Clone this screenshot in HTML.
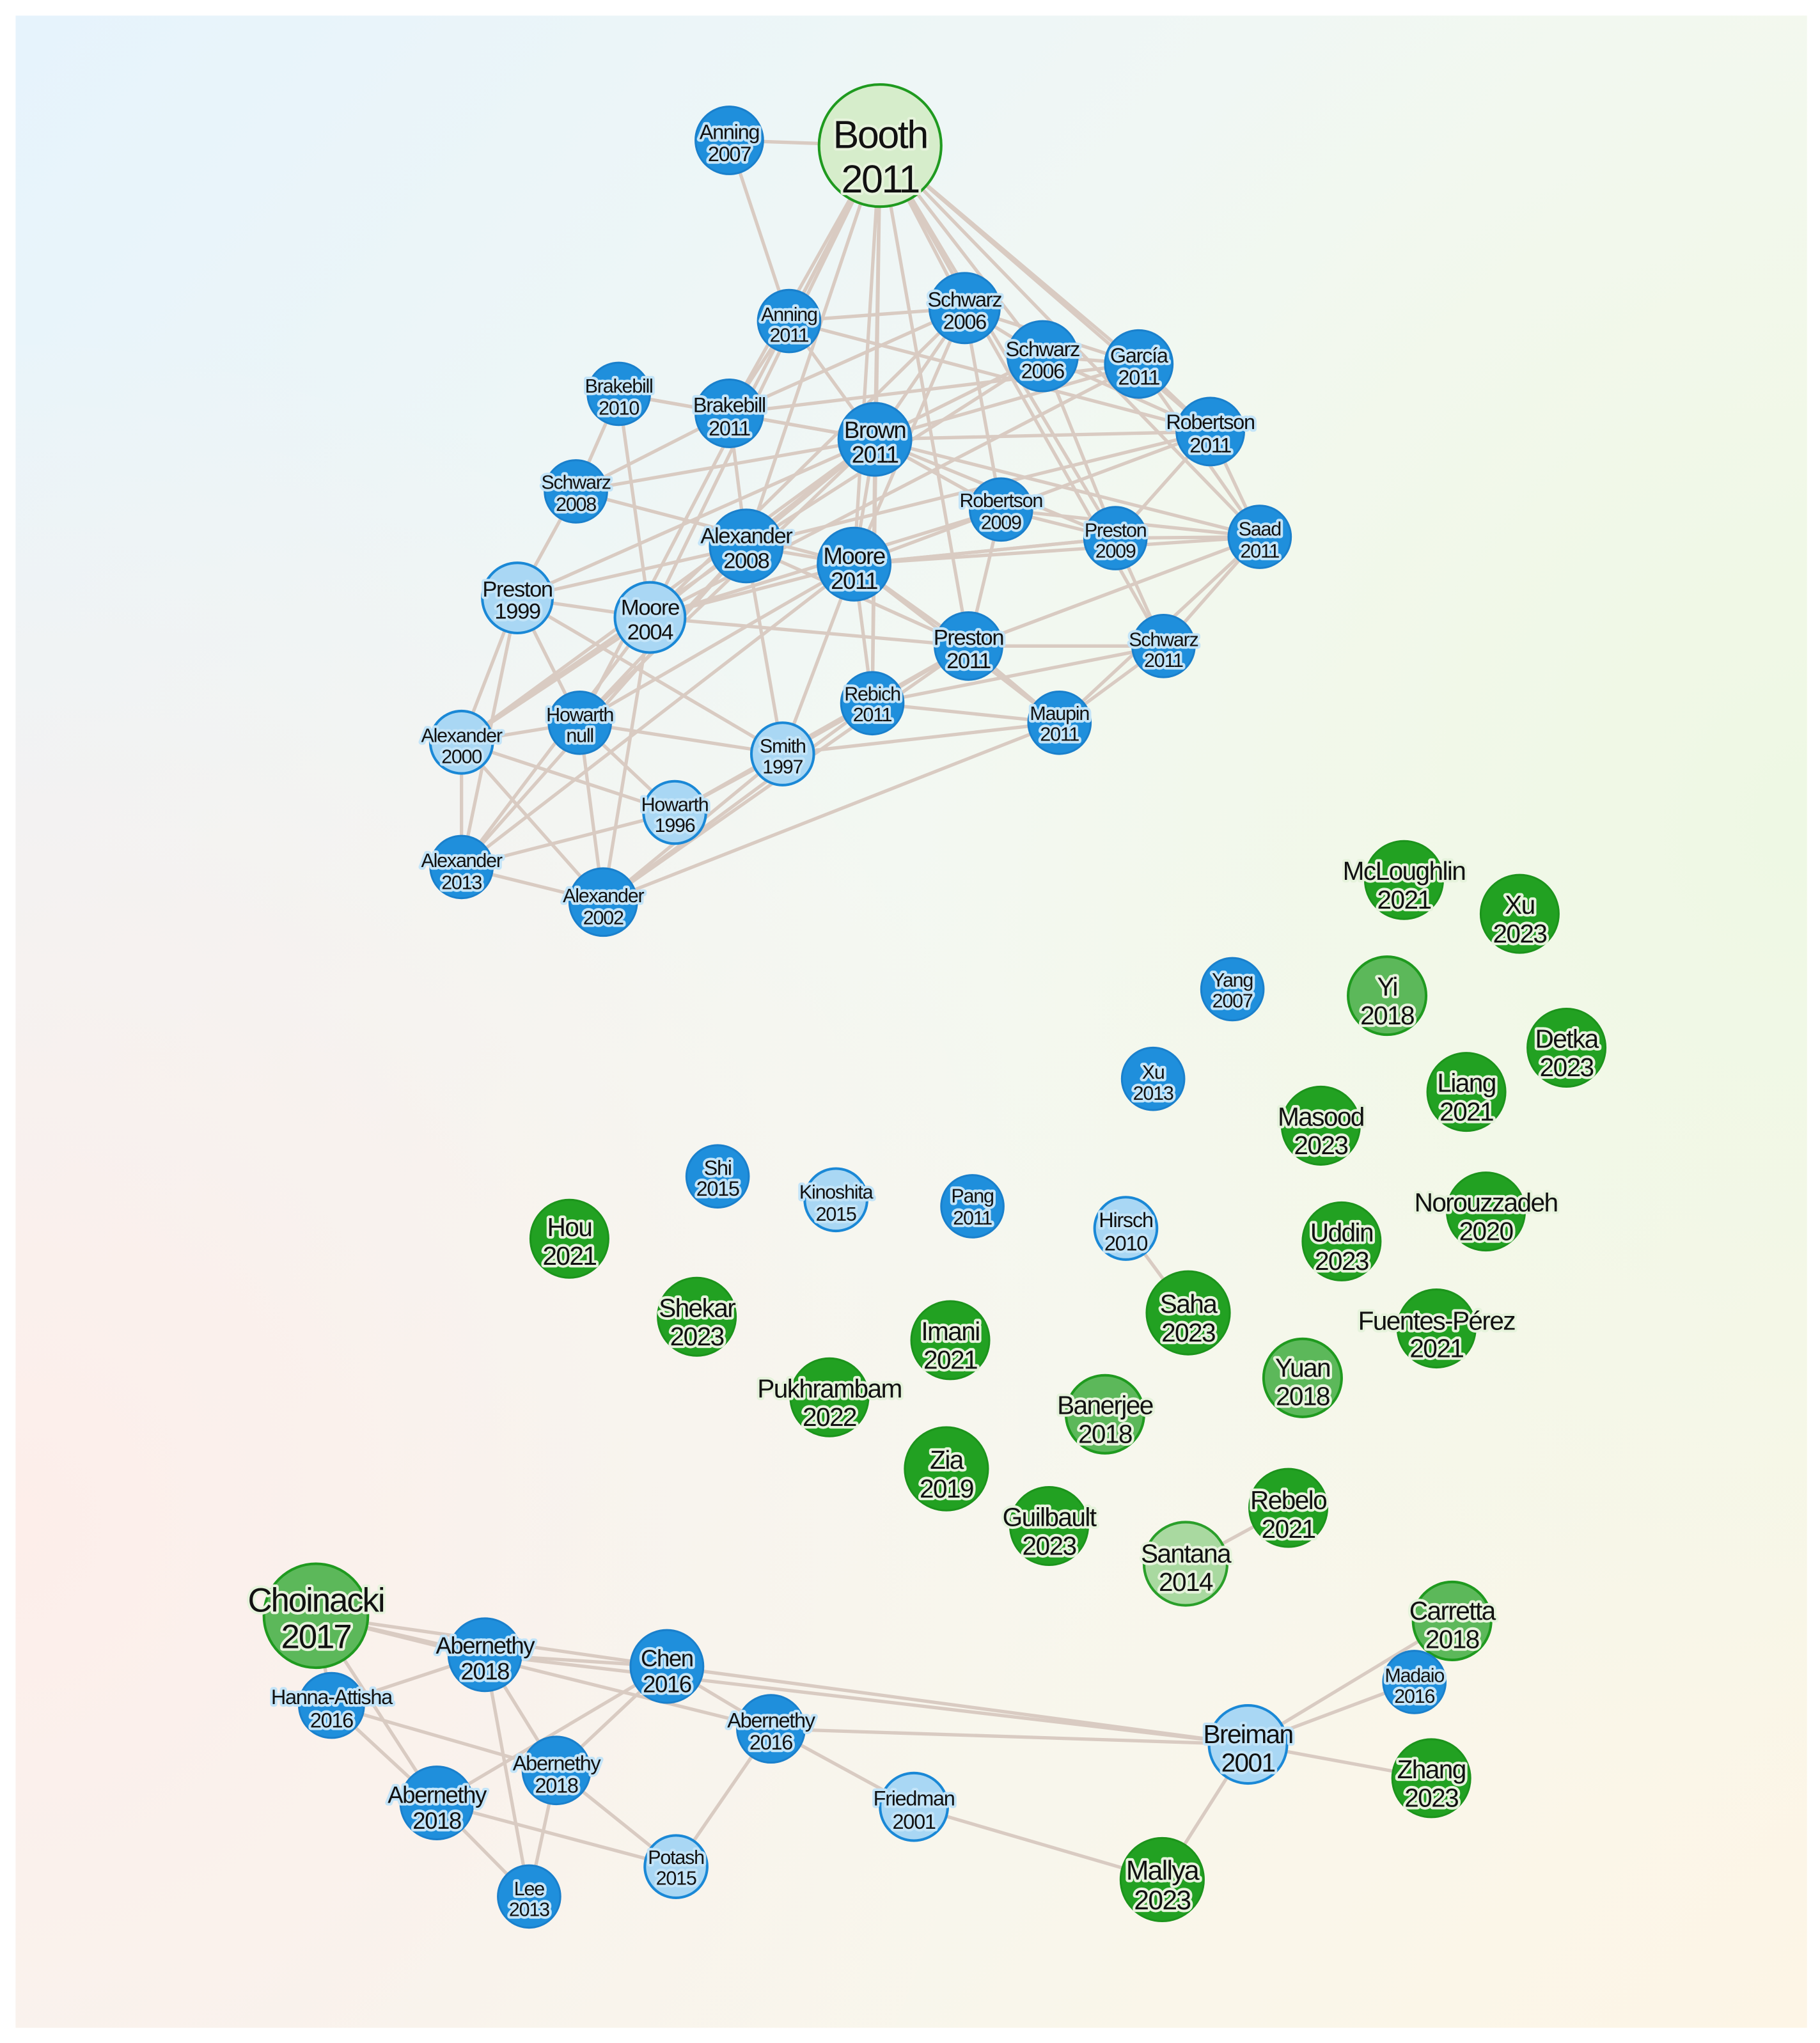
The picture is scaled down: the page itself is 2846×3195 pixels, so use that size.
<!DOCTYPE html>
<html><head><meta charset="utf-8">
<style>
html,body{margin:0;padding:0;width:2846px;height:3195px;overflow:hidden;background:#fff}
svg{display:block}
text{font-family:"Liberation Sans",sans-serif;text-anchor:middle;fill:#111;paint-order:stroke;stroke-linejoin:round;letter-spacing:-0.04em}
.hb{stroke:#c3e4f8;stroke-width:4}
.hg{stroke:#e6f3dc;stroke-width:4}
.e line{stroke:#d9cbc2;stroke-width:2.6}
.b{fill:#1f8fdc;stroke:#1a80cc;stroke-width:1.5}
.lb{fill:#a9d7f4;stroke:#1a88d6;stroke-width:2}
.g{fill:#22a122;stroke:#1c941c;stroke-width:1.5}
.mg{fill:#5cb85a;stroke:#1f9a1f;stroke-width:2}
.lg{fill:#a9d9a0;stroke:#2a9f2a;stroke-width:2}
.vg{fill:#d6edcb;stroke:#1f9a1f;stroke-width:2}
</style></head><body>
<svg width="2846" height="3195" viewBox="0 0 1400 1571.7" xmlns="http://www.w3.org/2000/svg">
<defs>
<linearGradient id="g1" x1="0" y1="0" x2="1" y2="1">
<stop offset="0" stop-color="#e6f3fc"/>
<stop offset="0.45" stop-color="#f3f8f2"/>
<stop offset="1" stop-color="#fdf5e6"/>
</linearGradient>
<radialGradient id="g2" cx="0" cy="0.75" r="0.6">
<stop offset="0" stop-color="#fdeeea" stop-opacity="1"/>
<stop offset="1" stop-color="#fdeeea" stop-opacity="0"/>
</radialGradient>
<radialGradient id="g3" cx="1" cy="0.4" r="0.5">
<stop offset="0" stop-color="#eef8e4" stop-opacity="1"/>
<stop offset="1" stop-color="#eef8e4" stop-opacity="0"/>
</radialGradient>
</defs>
<rect x="0" y="0" width="1400" height="1572" fill="#fff"/>
<rect x="12" y="12" width="1378" height="1548" fill="url(#g1)"/>
<rect x="12" y="12" width="1378" height="1548" fill="url(#g2)"/>
<rect x="12" y="12" width="1378" height="1548" fill="url(#g3)"/>

<g class="e">
<!-- top cluster edges -->
<line x1="677" y1="112" x2="561" y2="108"/><line x1="561" y1="108" x2="607" y2="247"/>
<line x1="677" y1="112" x2="607" y2="247"/><line x1="677" y1="112" x2="742" y2="237"/>
<line x1="677" y1="112" x2="802" y2="274"/><line x1="677" y1="112" x2="876" y2="280"/>
<line x1="677" y1="112" x2="931" y2="332"/><line x1="677" y1="112" x2="561" y2="318"/>
<line x1="677" y1="112" x2="673" y2="338"/><line x1="677" y1="112" x2="574" y2="420"/>
<line x1="677" y1="112" x2="657" y2="434"/><line x1="677" y1="112" x2="500" y2="475"/>
<line x1="677" y1="112" x2="745" y2="497"/><line x1="677" y1="112" x2="858" y2="414"/>
<line x1="677" y1="112" x2="969" y2="413"/><line x1="677" y1="112" x2="671" y2="541"/>
<line x1="677" y1="112" x2="895" y2="497"/><line x1="677" y1="112" x2="446" y2="556"/>
<line x1="476" y1="303" x2="561" y2="318"/><line x1="476" y1="303" x2="443" y2="378"/>
<line x1="476" y1="303" x2="673" y2="338"/><line x1="476" y1="303" x2="500" y2="475"/>
<line x1="443" y1="378" x2="398" y2="460"/><line x1="443" y1="378" x2="673" y2="338"/>
<line x1="443" y1="378" x2="657" y2="434"/><line x1="398" y1="460" x2="500" y2="475"/>
<line x1="398" y1="460" x2="355" y2="571"/><line x1="398" y1="460" x2="355" y2="667"/>
<line x1="398" y1="460" x2="446" y2="556"/><line x1="398" y1="460" x2="673" y2="338"/>
<line x1="398" y1="460" x2="574" y2="420"/><line x1="398" y1="460" x2="602" y2="580"/>
<line x1="500" y1="475" x2="673" y2="338"/><line x1="500" y1="475" x2="657" y2="434"/>
<line x1="500" y1="475" x2="745" y2="497"/><line x1="500" y1="475" x2="355" y2="571"/>
<line x1="500" y1="475" x2="355" y2="667"/><line x1="500" y1="475" x2="464" y2="694"/>
<line x1="500" y1="475" x2="742" y2="237"/><line x1="500" y1="475" x2="876" y2="280"/>
<line x1="355" y1="571" x2="446" y2="556"/><line x1="355" y1="571" x2="355" y2="667"/>
<line x1="355" y1="571" x2="464" y2="694"/><line x1="355" y1="571" x2="519" y2="625"/>
<line x1="355" y1="571" x2="574" y2="420"/><line x1="355" y1="571" x2="673" y2="338"/>
<line x1="446" y1="556" x2="519" y2="625"/><line x1="446" y1="556" x2="464" y2="694"/>
<line x1="446" y1="556" x2="602" y2="580"/><line x1="446" y1="556" x2="657" y2="434"/>
<line x1="446" y1="556" x2="673" y2="338"/><line x1="446" y1="556" x2="574" y2="420"/>
<line x1="519" y1="625" x2="355" y2="667"/><line x1="519" y1="625" x2="671" y2="541"/>
<line x1="519" y1="625" x2="602" y2="580"/><line x1="519" y1="625" x2="745" y2="497"/>
<line x1="355" y1="667" x2="464" y2="694"/><line x1="355" y1="667" x2="657" y2="434"/>
<line x1="355" y1="667" x2="574" y2="420"/><line x1="464" y1="694" x2="602" y2="580"/>
<line x1="464" y1="694" x2="815" y2="556"/><line x1="464" y1="694" x2="745" y2="497"/>
<line x1="464" y1="694" x2="671" y2="541"/><line x1="602" y1="580" x2="671" y2="541"/>
<line x1="602" y1="580" x2="657" y2="434"/><line x1="602" y1="580" x2="815" y2="556"/>
<line x1="602" y1="580" x2="574" y2="420"/><line x1="671" y1="541" x2="815" y2="556"/>
<line x1="671" y1="541" x2="745" y2="497"/><line x1="671" y1="541" x2="657" y2="434"/>
<line x1="671" y1="541" x2="673" y2="338"/><line x1="671" y1="541" x2="895" y2="497"/>
<line x1="745" y1="497" x2="895" y2="497"/><line x1="745" y1="497" x2="815" y2="556"/>
<line x1="745" y1="497" x2="657" y2="434"/><line x1="745" y1="497" x2="969" y2="413"/>
<line x1="745" y1="497" x2="770" y2="392"/><line x1="745" y1="497" x2="574" y2="420"/>
<line x1="657" y1="434" x2="574" y2="420"/><line x1="657" y1="434" x2="673" y2="338"/>
<line x1="657" y1="434" x2="742" y2="237"/><line x1="657" y1="434" x2="931" y2="332"/>
<line x1="657" y1="434" x2="969" y2="413"/><line x1="657" y1="434" x2="858" y2="414"/>
<line x1="574" y1="420" x2="673" y2="338"/><line x1="574" y1="420" x2="561" y2="318"/>
<line x1="574" y1="420" x2="802" y2="274"/><line x1="574" y1="420" x2="931" y2="332"/>
<line x1="673" y1="338" x2="607" y2="247"/><line x1="673" y1="338" x2="742" y2="237"/>
<line x1="673" y1="338" x2="802" y2="274"/><line x1="673" y1="338" x2="876" y2="280"/>
<line x1="673" y1="338" x2="931" y2="332"/><line x1="673" y1="338" x2="770" y2="392"/>
<line x1="673" y1="338" x2="858" y2="414"/><line x1="673" y1="338" x2="969" y2="413"/>
<line x1="673" y1="338" x2="561" y2="318"/><line x1="561" y1="318" x2="607" y2="247"/>
<line x1="561" y1="318" x2="742" y2="237"/><line x1="561" y1="318" x2="876" y2="280"/>
<line x1="561" y1="318" x2="443" y2="378"/><line x1="607" y1="247" x2="742" y2="237"/>
<line x1="607" y1="247" x2="931" y2="332"/><line x1="742" y1="237" x2="802" y2="274"/>
<line x1="742" y1="237" x2="876" y2="280"/><line x1="742" y1="237" x2="770" y2="392"/>
<line x1="802" y1="274" x2="876" y2="280"/><line x1="802" y1="274" x2="931" y2="332"/>
<line x1="802" y1="274" x2="858" y2="414"/><line x1="876" y1="280" x2="931" y2="332"/>
<line x1="876" y1="280" x2="969" y2="413"/><line x1="931" y1="332" x2="969" y2="413"/>
<line x1="931" y1="332" x2="858" y2="414"/><line x1="770" y1="392" x2="858" y2="414"/>
<line x1="770" y1="392" x2="969" y2="413"/><line x1="858" y1="414" x2="969" y2="413"/>
<line x1="858" y1="414" x2="895" y2="497"/><line x1="969" y1="413" x2="895" y2="497"/>
<line x1="969" y1="413" x2="815" y2="556"/><line x1="895" y1="497" x2="815" y2="556"/>
<line x1="815" y1="556" x2="657" y2="434"/><line x1="770" y1="392" x2="500" y2="475"/>
<line x1="858" y1="414" x2="657" y2="434"/>
<!-- middle -->
<line x1="866" y1="945" x2="914" y2="1010"/>
<line x1="912" y1="1203" x2="991" y2="1160"/>
<!-- bottom -->
<line x1="243" y1="1243" x2="373" y2="1273"/><line x1="243" y1="1243" x2="513" y2="1282"/>
<line x1="243" y1="1243" x2="255" y2="1312"/><line x1="243" y1="1243" x2="593" y2="1330"/>
<line x1="243" y1="1243" x2="336" y2="1387"/>
<line x1="373" y1="1273" x2="513" y2="1282"/><line x1="373" y1="1273" x2="960" y2="1342"/>
<line x1="373" y1="1273" x2="428" y2="1362"/><line x1="373" y1="1273" x2="407" y2="1459"/>
<line x1="373" y1="1273" x2="255" y2="1312"/>
<line x1="255" y1="1312" x2="428" y2="1362"/><line x1="255" y1="1312" x2="336" y2="1387"/>
<line x1="513" y1="1282" x2="428" y2="1362"/><line x1="513" y1="1282" x2="336" y2="1387"/>
<line x1="513" y1="1282" x2="960" y2="1342"/><line x1="513" y1="1282" x2="593" y2="1330"/>
<line x1="593" y1="1330" x2="960" y2="1342"/><line x1="593" y1="1330" x2="520" y2="1436"/>
<line x1="593" y1="1330" x2="703" y2="1390"/>
<line x1="428" y1="1362" x2="520" y2="1436"/><line x1="428" y1="1362" x2="407" y2="1459"/>
<line x1="336" y1="1387" x2="407" y2="1459"/><line x1="336" y1="1387" x2="520" y2="1436"/>
<line x1="703" y1="1390" x2="894" y2="1446"/><line x1="960" y1="1342" x2="894" y2="1446"/>
<line x1="960" y1="1342" x2="1117" y2="1247"/><line x1="960" y1="1342" x2="1088" y2="1294"/>
<line x1="960" y1="1342" x2="1101" y2="1368"/>
</g>

<!-- nodes: top cluster -->
<g>
<circle class="vg" cx="677" cy="112" r="47"/><text class="hg" x="677" y="114" font-size="30">Booth</text><text class="hg" x="677" y="148" font-size="30">2011</text>
<circle class="b" cx="561" cy="108" r="26"/><text class="hb" x="561" y="107" font-size="16">Anning</text><text class="hb" x="561" y="124" font-size="16">2007</text>
<circle class="b" cx="607" cy="247" r="24"/><text class="hb" x="607" y="247" font-size="15">Anning</text><text class="hb" x="607" y="263" font-size="15">2011</text>
<circle class="b" cx="742" cy="237" r="27"/><text class="hb" x="742" y="236" font-size="16">Schwarz</text><text class="hb" x="742" y="253" font-size="16">2006</text>
<circle class="b" cx="802" cy="274" r="27"/><text class="hb" x="802" y="274" font-size="16">Schwarz</text><text class="hb" x="802" y="291" font-size="16">2006</text>
<circle class="b" cx="876" cy="280" r="26"/><text class="hb" x="876" y="279" font-size="16">García</text><text class="hb" x="876" y="296" font-size="16">2011</text>
<circle class="b" cx="476" cy="303" r="24"/><text class="hb" x="476" y="302" font-size="15">Brakebill</text><text class="hb" x="476" y="319" font-size="15">2010</text>
<circle class="b" cx="561" cy="318" r="26"/><text class="hb" x="561" y="317" font-size="16">Brakebill</text><text class="hb" x="561" y="335" font-size="16">2011</text>
<circle class="b" cx="673" cy="338" r="28"/><text class="hb" x="673" y="337" font-size="18">Brown</text><text class="hb" x="673" y="356" font-size="18">2011</text>
<circle class="b" cx="931" cy="332" r="26"/><text class="hb" x="931" y="330" font-size="16">Robertson</text><text class="hb" x="931" y="348" font-size="16">2011</text>
<circle class="b" cx="443" cy="378" r="24"/><text class="hb" x="443" y="376" font-size="15">Schwarz</text><text class="hb" x="443" y="393" font-size="15">2008</text>
<circle class="b" cx="770" cy="392" r="24"/><text class="hb" x="770" y="390" font-size="15">Robertson</text><text class="hb" x="770" y="407" font-size="15">2009</text>
<circle class="b" cx="858" cy="414" r="24"/><text class="hb" x="858" y="413" font-size="15">Preston</text><text class="hb" x="858" y="429" font-size="15">2009</text>
<circle class="b" cx="969" cy="413" r="24"/><text class="hb" x="969" y="412" font-size="15">Saad</text><text class="hb" x="969" y="429" font-size="15">2011</text>
<circle class="b" cx="574" cy="420" r="28"/><text class="hb" x="574" y="418" font-size="17">Alexander</text><text class="hb" x="574" y="437" font-size="17">2008</text>
<circle class="b" cx="657" cy="434" r="28"/><text class="hb" x="657" y="434" font-size="18">Moore</text><text class="hb" x="657" y="453" font-size="18">2011</text>
<circle class="lb" cx="398" cy="460" r="27"/><text class="hb" x="398" y="459" font-size="17">Preston</text><text class="hb" x="398" y="476" font-size="17">1999</text>
<circle class="lb" cx="500" cy="475" r="27"/><text class="hb" x="500" y="473" font-size="17">Moore</text><text class="hb" x="500" y="492" font-size="17">2004</text>
<circle class="b" cx="745" cy="497" r="26"/><text class="hb" x="745" y="496" font-size="17">Preston</text><text class="hb" x="745" y="514" font-size="17">2011</text>
<circle class="b" cx="895" cy="497" r="24"/><text class="hb" x="895" y="497" font-size="15">Schwarz</text><text class="hb" x="895" y="513" font-size="15">2011</text>
<circle class="b" cx="671" cy="541" r="24"/><text class="hb" x="671" y="539" font-size="15">Rebich</text><text class="hb" x="671" y="555" font-size="15">2011</text>
<circle class="b" cx="446" cy="556" r="24"/><text class="hb" x="446" y="555" font-size="15">Howarth</text><text class="hb" x="446" y="571" font-size="15">null</text>
<circle class="lb" cx="355" cy="571" r="24"/><text class="hb" x="355" y="571" font-size="15">Alexander</text><text class="hb" x="355" y="587" font-size="15">2000</text>
<circle class="b" cx="815" cy="556" r="24"/><text class="hb" x="815" y="554" font-size="15">Maupin</text><text class="hb" x="815" y="570" font-size="15">2011</text>
<circle class="lb" cx="602" cy="580" r="24"/><text class="hb" x="602" y="579" font-size="15">Smith</text><text class="hb" x="602" y="595" font-size="15">1997</text>
<circle class="lb" cx="519" cy="625" r="24"/><text class="hb" x="519" y="624" font-size="15">Howarth</text><text class="hb" x="519" y="640" font-size="15">1996</text>
<circle class="b" cx="355" cy="667" r="24"/><text class="hb" x="355" y="667" font-size="15">Alexander</text><text class="hb" x="355" y="684" font-size="15">2013</text>
<circle class="b" cx="464" cy="694" r="26"/><text class="hb" x="464" y="694" font-size="15">Alexander</text><text class="hb" x="464" y="711" font-size="15">2002</text>
</g>

<!-- middle -->
<g>
<circle class="g" cx="1080" cy="677" r="30"/><text class="hg" x="1080" y="677" font-size="20">McLoughlin</text><text class="hg" x="1080" y="699" font-size="20">2021</text>
<circle class="g" cx="1169" cy="703" r="30"/><text class="hg" x="1169" y="703" font-size="20">Xu</text><text class="hg" x="1169" y="725" font-size="20">2023</text>
<circle class="b" cx="948" cy="761" r="24"/><text class="hb" x="948" y="759" font-size="15">Yang</text><text class="hb" x="948" y="775" font-size="15">2007</text>
<circle class="mg" cx="1067" cy="766" r="30"/><text class="hg" x="1067" y="766" font-size="20">Yi</text><text class="hg" x="1067" y="788" font-size="20">2018</text>
<circle class="g" cx="1205" cy="806" r="30"/><text class="hg" x="1205" y="806" font-size="20">Detka</text><text class="hg" x="1205" y="828" font-size="20">2023</text>
<circle class="b" cx="887" cy="830" r="24"/><text class="hb" x="887" y="830" font-size="15">Xu</text><text class="hb" x="887" y="846" font-size="15">2013</text>
<circle class="g" cx="1128" cy="840" r="30"/><text class="hg" x="1128" y="840" font-size="20">Liang</text><text class="hg" x="1128" y="862" font-size="20">2021</text>
<circle class="g" cx="1016" cy="866" r="30"/><text class="hg" x="1016" y="866" font-size="20">Masood</text><text class="hg" x="1016" y="888" font-size="20">2023</text>
<circle class="b" cx="552" cy="905" r="24"/><text class="hb" x="552" y="904" font-size="16">Shi</text><text class="hb" x="552" y="920" font-size="16">2015</text>
<circle class="lb" cx="643" cy="923" r="24"/><text class="hb" x="643" y="922" font-size="15">Kinoshita</text><text class="hb" x="643" y="939" font-size="15">2015</text>
<circle class="b" cx="748" cy="928" r="24"/><text class="hb" x="748" y="925" font-size="15">Pang</text><text class="hb" x="748" y="942" font-size="15">2011</text>
<circle class="lb" cx="866" cy="945" r="24"/><text class="hb" x="866" y="944" font-size="16">Hirsch</text><text class="hb" x="866" y="962" font-size="16">2010</text>
<circle class="g" cx="438" cy="953" r="30"/><text class="hg" x="438" y="951" font-size="20">Hou</text><text class="hg" x="438" y="973" font-size="20">2021</text>
<circle class="g" cx="1032" cy="955" r="30"/><text class="hg" x="1032" y="955" font-size="20">Uddin</text><text class="hg" x="1032" y="977" font-size="20">2023</text>
<circle class="g" cx="1143" cy="932" r="30"/><text class="hg" x="1143" y="932" font-size="20">Norouzzadeh</text><text class="hg" x="1143" y="954" font-size="20">2020</text>
<circle class="g" cx="536" cy="1013" r="30"/><text class="hg" x="536" y="1013" font-size="20">Shekar</text><text class="hg" x="536" y="1035" font-size="20">2023</text>
<circle class="g" cx="914" cy="1010" r="32"/><text class="hg" x="914" y="1010" font-size="20">Saha</text><text class="hg" x="914" y="1032" font-size="20">2023</text>
<circle class="g" cx="731" cy="1031" r="30"/><text class="hg" x="731" y="1031" font-size="20">Imani</text><text class="hg" x="731" y="1053" font-size="20">2021</text>
<circle class="g" cx="1105" cy="1022" r="30"/><text class="hg" x="1105" y="1023" font-size="20">Fuentes-Pérez</text><text class="hg" x="1105" y="1044" font-size="20">2021</text>
<circle class="mg" cx="1002" cy="1060" r="30"/><text class="hg" x="1002" y="1059" font-size="20">Yuan</text><text class="hg" x="1002" y="1081" font-size="20">2018</text>
<circle class="g" cx="638" cy="1075" r="30"/><text class="hg" x="638" y="1075" font-size="20">Pukhrambam</text><text class="hg" x="638" y="1097" font-size="20">2022</text>
<circle class="mg" cx="850" cy="1088" r="30"/><text class="hg" x="850" y="1088" font-size="20">Banerjee</text><text class="hg" x="850" y="1110" font-size="20">2018</text>
<circle class="g" cx="728" cy="1130" r="32"/><text class="hg" x="728" y="1130" font-size="20">Zia</text><text class="hg" x="728" y="1152" font-size="20">2019</text>
<circle class="g" cx="807" cy="1174" r="30"/><text class="hg" x="807" y="1174" font-size="20">Guilbault</text><text class="hg" x="807" y="1196" font-size="20">2023</text>
<circle class="g" cx="991" cy="1160" r="30"/><text class="hg" x="991" y="1161" font-size="20">Rebelo</text><text class="hg" x="991" y="1183" font-size="20">2021</text>
<circle class="lg" cx="912" cy="1203" r="32"/><text class="hg" x="912" y="1202" font-size="20">Santana</text><text class="hg" x="912" y="1224" font-size="20">2014</text>
</g>

<!-- bottom -->
<g>
<circle class="mg" cx="243" cy="1243" r="40"/><text class="hg" x="243" y="1240" font-size="26">Choinacki</text><text class="hg" x="243" y="1268" font-size="26">2017</text>
<circle class="b" cx="373" cy="1273" r="28"/><text class="hb" x="373" y="1272" font-size="18">Abernethy</text><text class="hb" x="373" y="1292" font-size="18">2018</text>
<circle class="b" cx="255" cy="1312" r="25"/><text class="hb" x="255" y="1311" font-size="16">Hanna-Attisha</text><text class="hb" x="255" y="1329" font-size="16">2016</text>
<circle class="b" cx="513" cy="1282" r="28"/><text class="hb" x="513" y="1282" font-size="18">Chen</text><text class="hb" x="513" y="1302" font-size="18">2016</text>
<circle class="b" cx="593" cy="1330" r="26"/><text class="hb" x="593" y="1329" font-size="16">Abernethy</text><text class="hb" x="593" y="1346" font-size="16">2016</text>
<circle class="b" cx="428" cy="1362" r="26"/><text class="hb" x="428" y="1362" font-size="16">Abernethy</text><text class="hb" x="428" y="1379" font-size="16">2018</text>
<circle class="b" cx="336" cy="1387" r="28"/><text class="hb" x="336" y="1387" font-size="18">Abernethy</text><text class="hb" x="336" y="1407" font-size="18">2018</text>
<circle class="lb" cx="520" cy="1436" r="24"/><text class="hb" x="520" y="1434" font-size="15">Potash</text><text class="hb" x="520" y="1450" font-size="15">2015</text>
<circle class="b" cx="407" cy="1459" r="24"/><text class="hb" x="407" y="1458" font-size="15">Lee</text><text class="hb" x="407" y="1474" font-size="15">2013</text>
<circle class="lb" cx="703" cy="1390" r="26"/><text class="hb" x="703" y="1389" font-size="16">Friedman</text><text class="hb" x="703" y="1407" font-size="16">2001</text>
<circle class="lb" cx="960" cy="1342" r="30"/><text class="hb" x="960" y="1341" font-size="20">Breiman</text><text class="hb" x="960" y="1363" font-size="20">2001</text>
<circle class="g" cx="894" cy="1446" r="32"/><text class="hg" x="894" y="1446" font-size="21">Mallya</text><text class="hg" x="894" y="1469" font-size="21">2023</text>
<circle class="mg" cx="1117" cy="1247" r="30"/><text class="hg" x="1117" y="1246" font-size="20">Carretta</text><text class="hg" x="1117" y="1268" font-size="20">2018</text>
<circle class="b" cx="1088" cy="1294" r="24"/><text class="hb" x="1088" y="1294" font-size="15">Madaio</text><text class="hb" x="1088" y="1310" font-size="15">2016</text>
<circle class="g" cx="1101" cy="1368" r="30"/><text class="hg" x="1101" y="1368" font-size="20">Zhang</text><text class="hg" x="1101" y="1390" font-size="20">2023</text>
</g>
</svg>
</body></html>
